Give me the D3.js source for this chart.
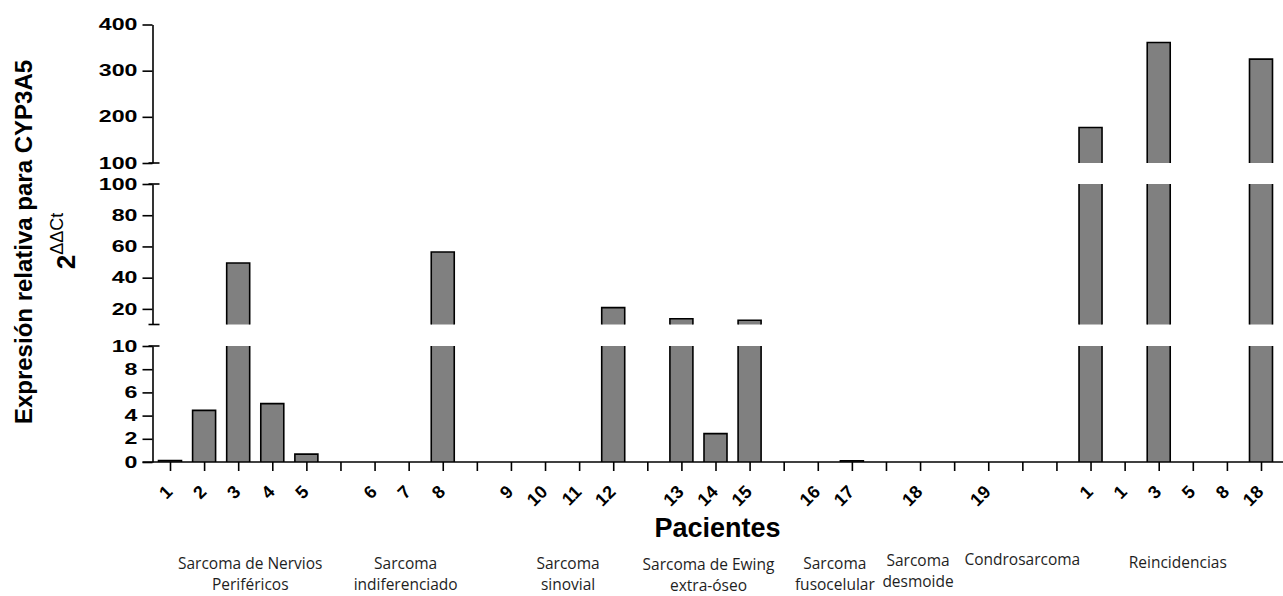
<!DOCTYPE html>
<html>
<head>
<meta charset="utf-8">
<script src="https://cdn.jsdelivr.net/npm/d3@7"></script>
<style>
    body { margin: 0; background: #ffffff; }
    .axis path, .axis line { stroke: #000; stroke-width: 1.6px; }
    .bar { fill: #808080; }
    .barEdge { fill: none; stroke: #000; stroke-width: 1.6px; }
    .grupo { font-family: "Open Sans", sans-serif; font-size: 15.5px; fill: #1e1e1e; }
</style>
</head>
<body>
<div id="chart"></div>
<script>

//Patient number shown under each slot ("" = empty slot between groups)
const pacientes = ["1", "2", "3", "4", "5", "",
                   "6", "7", "8", "",
                   "9", "10", "11", "12", "",
                   "13", "14", "15", "",
                   "16", "17", "",
                   "18", "",
                   "19", "", "",
                   "1", "1", "3", "5", "8", "18"];

//Relative expression 2^-ddCt (null = empty slot)
const expresion = [0.12, 4.45, 49.4, 5.03, 0.68, null,
                   0, 0, 56.4, null,
                   0, 0, 0, 20.8, null,
                   13.7, 2.45, 12.7, null,
                   0, 0.1, null,
                   0, null,
                   0, null, null,
                   177, 0, 361, 0, 0, 325];

//Tumour groups and the slots they sit under
const grupos = [["Sarcoma de Nervios", "Periféricos"],
                ["Sarcoma", "indiferenciado"],
                ["Sarcoma", "sinovial"],
                ["Sarcoma de Ewing", "extra-óseo"],
                ["Sarcoma", "fusocelular"],
                ["Sarcoma", "desmoide"],
                ["Condrosarcoma"],
                ["Reincidencias"]];
const gruposSlots = [[0, 5], [6, 8], [10, 13], [15, 17], [19, 20], [22, 22], [24, 26], [27, 32]];

//Tick values of the three pieces of the broken y axis
const ticksTop = [100, 200, 300, 400];
const ticksMid = [20, 40, 60, 80, 100];
const ticksBot = [0, 2, 4, 6, 8, 10];

class BrokenBarChart
{
    constructor ()
    {
        //Svg size same as the window
        this.width = 1283;
        this.height = 596;

        this.svg = d3.select("#chart").append("svg")
            .attr("width", this.width)
            .attr("height", this.height);

        //Left edge of the plot (y axis line)
        this.axisX = 152.5;
        this.baseY = 462;

        //Three y pieces, top to bottom
        this.segments = [
            {scale: d3.scaleLinear().domain([100, 400]).range([163, 24.5]), ticks: ticksTop},
            {scale: d3.scaleLinear().domain([10, 100]).range([324.5, 184]), ticks: ticksMid},
            {scale: d3.scaleLinear().domain([0, 10]).range([this.baseY, 346]), ticks: ticksBot}
        ];

        this.xScale = d3.scalePoint()
            .domain(d3.range(pacientes.length))
            .range([170, 1261]);
        this.barW = 23;
    }

    draw ()
    {
        let self = this;
        let data = expresion.map((v, i) => ({i: i, v: v})).filter(d => d.v != null && d.v > 0);

        //////
        // Bars, cut at every break of the axis
        this.segments.forEach(seg =>
        {
            let lo = seg.scale.domain()[0];
            let hi = seg.scale.domain()[1];
            let inSeg = data.filter(d => d.v > lo);
            let g = self.svg.append("g");

            g.selectAll("rect")
                .data(inSeg)
                .join("rect")
                .attr("class", "bar")
                .attr("x", d => self.xScale(d.i) - self.barW / 2)
                .attr("width", self.barW)
                .attr("y", d => seg.scale(Math.min(d.v, hi)))
                .attr("height", d => seg.scale(lo) - seg.scale(Math.min(d.v, hi)));

            g.selectAll("path")
                .data(inSeg)
                .join("path")
                .attr("class", "barEdge")
                .attr("d", d =>
                {
                    let x0 = self.xScale(d.i) - self.barW / 2;
                    let x1 = x0 + self.barW;
                    let yb = seg.scale(lo);
                    let yt = seg.scale(Math.min(d.v, hi));
                    let p = d3.path();
                    p.moveTo(x0, yb);
                    p.lineTo(x0, yt);
                    if (d.v <= hi) { p.lineTo(x1, yt); } else { p.moveTo(x1, yt); }
                    p.lineTo(x1, yb);
                    return p.toString();
                });
        });

        //////
        // Y axis pieces
        this.segments.forEach((seg, k) =>
        {
            let yAxis = d3.axisLeft(seg.scale)
                .tickValues(seg.ticks)
                .tickSize(10)
                .tickSizeOuter(0)
                .tickPadding(5);
            let ax = self.svg.append("g")
                .attr("class", "axis")
                .attr("transform", "translate(" + self.axisX + ",0)")
                .call(yAxis);
            ax.selectAll("text")
                .attr("x", 0)
                .attr("transform", "translate(-15,0) scale(1.45,1)")
                .style("font", "bold 16px 'Liberation Sans', Arial, sans-serif")
                .style("fill", "#000");

            //Caps where the axis is broken
            let ends = [];
            if (k > 0) { ends.push(seg.scale.range()[1]); }
            if (k < self.segments.length - 1) { ends.push(seg.scale.range()[0]); }
            ax.selectAll(".cap")
                .data(ends)
                .join("line")
                .attr("class", "cap")
                .attr("x1", -4).attr("x2", 7)
                .attr("y1", d => d).attr("y2", d => d);
        });

        //////
        // X axis
        let xAxis = d3.axisBottom(this.xScale)
            .tickSize(9)
            .tickSizeOuter(0)
            .tickFormat(i => pacientes[i]);
        let xg = this.svg.append("g")
            .attr("class", "axis")
            .attr("transform", "translate(0," + this.baseY + ")")
            .call(xAxis);
        xg.select(".domain").remove();
        xg.append("line")
            .attr("x1", this.axisX - 10).attr("x2", this.width)
            .attr("y1", 0).attr("y2", 0);
        xg.selectAll("text")
            .attr("y", null)
            .attr("dy", null)
            .attr("text-anchor", "end")
            .attr("transform", "translate(3,31) rotate(-45)")
            .style("font", "bold 18px 'Liberation Sans', Arial, sans-serif")
            .style("fill", "#000");

        this.svg.append("text")
            .attr("x", 717.5)
            .attr("y", 537)
            .attr("text-anchor", "middle")
            .style("font", "bold 27px 'Liberation Sans', Arial, sans-serif")
            .text("Pacientes");

        //////
        // Y title
        this.svg.append("text")
            .attr("transform", "translate(32,242) rotate(-90)")
            .attr("text-anchor", "middle")
            .style("font", "bold 24px 'Liberation Sans', Arial, sans-serif")
            .text("Expresión relativa para CYP3A5");
        let sub = this.svg.append("text")
            .attr("transform", "translate(75,241) rotate(-90)")
            .attr("text-anchor", "middle")
            .style("font-family", "'Liberation Sans', Arial, sans-serif");
        sub.append("tspan").style("font-weight", "bold").style("font-size", "26px").text("2");
        sub.append("tspan").attr("dy", -12).style("font-size", "18px").text("ΔΔCt");

        //////
        // Group names under the axis
        let nudgeX = [-5, -3, 6, -7, 0, -2, 0, 2];
        let nudgeY = [0, 0, 0, 1, 0, -3, -4, -1];
        let gl = this.svg.append("g").attr("class", "grupo");
        grupos.forEach((lines, j) =>
        {
            let cx = (self.xScale(gruposSlots[j][0]) + self.xScale(gruposSlots[j][1])) / 2 + nudgeX[j];
            let t = gl.append("text")
                .attr("text-anchor", "middle")
                .attr("y", 569 + nudgeY[j]);
            lines.forEach((s, n) =>
            {
                t.append("tspan")
                    .attr("x", cx)
                    .attr("dy", n == 0 ? 0 : 20.5)
                    .text(s);
            });
        });
    }
}

let chart = new BrokenBarChart();
chart.draw();

</script>
</body>
</html>
